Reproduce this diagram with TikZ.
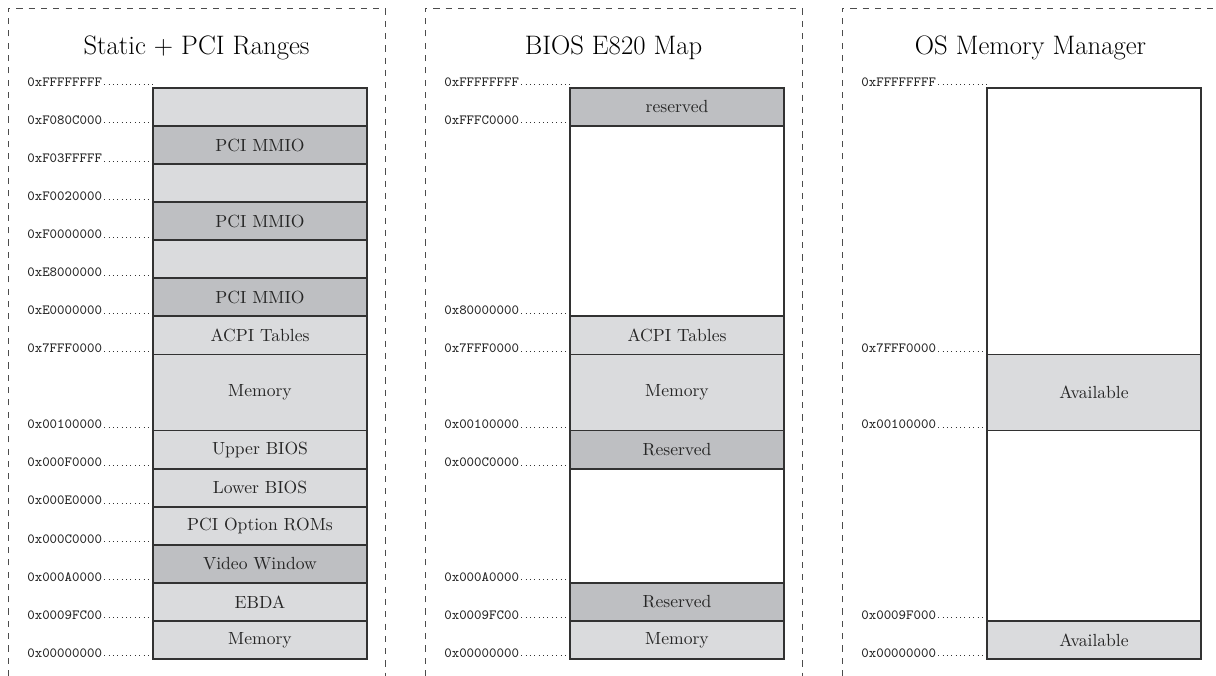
\documentclass[tikz,border=0pt]{standalone}
\usepackage{fontspec}
\usepackage{tikz}
\definecolor{memlight}{RGB}{218,219,221}
\definecolor{memdark}{RGB}{190,191,194}
\definecolor{memline}{RGB}{50,50,50}
\tikzset{
    region/.style={draw=memline, line width=1pt},
    regtext/.style={text=black!85, font=\normalsize},
    addr/.style={anchor=base west, inner sep=0pt, font=\footnotesize\ttfamily, text=black!85},
    leader/.style={dotted, line width=0.5pt, black!80},
    frame/.style={draw=black!70, line width=0.5pt, dash pattern=on 3.5pt off 3.5pt},
    maptitle/.style={anchor=base, font=\fontsize{15.2}{18}\selectfont}
}

\begin{document}
\begin{tikzpicture}[y=0.7614cm]
\useasboundingbox (0,-0.4466) rectangle (24.32,17.31);

% Static + PCI ranges
\begin{scope}[xshift=0.16cm]
\coordinate (box1) at (2.9,0);
\draw[frame] (0,-0.45) -- (0,17.1) -- (7.54,17.1) -- (7.54,-0.45);
\node[maptitle] (title1) at (3.77,15.89) {Static + PCI Ranges};
\foreach \lo/\hi/\kind/\txt in {0/1/memlight/Memory, 1/2/memlight/EBDA,
    2/3/memdark/Video Window, 3/4/memlight/PCI Option ROMs,
    4/5/memlight/Lower BIOS, 5/6/memlight/Upper BIOS, 6/8/memlight/Memory,
    8/9/memlight/ACPI Tables, 9/10/memdark/PCI MMIO, 10/11/memlight/{},
    11/12/memdark/PCI MMIO, 12/13/memlight/{}, 13/14/memdark/PCI MMIO,
    14/15/memlight/{}} {
    \draw[region, fill=\kind] (2.9,\lo) rectangle (7.18,\hi);
    \node[regtext] (s\lo) at (5.04,{(\lo+\hi)/2}) {\txt};
}
\foreach \yy/\val in {15/FFFFFFFF, 14/F080C000, 13/F03FFFFF, 12/F0020000,
    11/F0000000, 10/E8000000, 9/E0000000, 8/7FFF0000, 6/00100000,
    5/000F0000, 4/000E0000, 3/000C0000, 2/000A0000, 1/0009FC00, 0/00000000} {
    \node[addr] (sa\yy) at (0.38,\yy+0.045) {0x\val};
    \draw[leader] ([xshift=1pt,yshift=0.8pt]sa\yy.base east) -- ([yshift=0.8pt]sa\yy.base east -| box1);
}
\end{scope}

% BIOS E820 map
\begin{scope}[xshift=8.5cm]
\coordinate (box2) at (2.9,0);
\draw[frame] (0,-0.45) -- (0,17.1) -- (7.54,17.1) -- (7.54,-0.45);
\node[maptitle] (title2) at (3.77,15.89) {BIOS E820 Map};
\foreach \lo/\hi/\kind/\txt in {0/1/memlight/Memory, 1/2/memdark/Reserved,
    2/5/white/{}, 5/6/memdark/Reserved, 6/8/memlight/Memory,
    8/9/memlight/ACPI Tables, 9/14/white/{}, 14/15/memdark/reserved} {
    \draw[region, fill=\kind] (2.9,\lo) rectangle (7.18,\hi);
    \node[regtext] (e\lo) at (5.04,{(\lo+\hi)/2}) {\txt};
}
\foreach \yy/\val in {15/FFFFFFFF, 14/FFFC0000, 9/80000000, 8/7FFF0000,
    6/00100000, 5/000C0000, 2/000A0000, 1/0009FC00, 0/00000000} {
    \node[addr] (ea\yy) at (0.38,\yy+0.045) {0x\val};
    \draw[leader] ([xshift=1pt,yshift=0.8pt]ea\yy.base east) -- ([yshift=0.8pt]ea\yy.base east -| box2);
}
\end{scope}

% OS memory manager
\begin{scope}[xshift=16.84cm]
\coordinate (box3) at (2.9,0);
\draw[frame] (0,-0.45) -- (0,17.1) -- (7.54,17.1) -- (7.54,-0.45);
\node[maptitle] (title3) at (3.77,15.89) {OS Memory Manager};
\foreach \lo/\hi/\kind/\txt in {0/1/memlight/Available, 1/6/white/{},
    6/8/memlight/Available, 8/15/white/{}} {
    \draw[region, fill=\kind] (2.9,\lo) rectangle (7.18,\hi);
    \node[regtext] (o\lo) at (5.04,{(\lo+\hi)/2}) {\txt};
}
\foreach \yy/\val in {15/FFFFFFFF, 8/7FFF0000, 6/00100000, 1/0009F000,
    0/00000000} {
    \node[addr] (oa\yy) at (0.38,\yy+0.045) {0x\val};
    \draw[leader] ([xshift=1pt,yshift=0.8pt]oa\yy.base east) -- ([yshift=0.8pt]oa\yy.base east -| box3);
}
\end{scope}
\end{tikzpicture}
\end{document}
